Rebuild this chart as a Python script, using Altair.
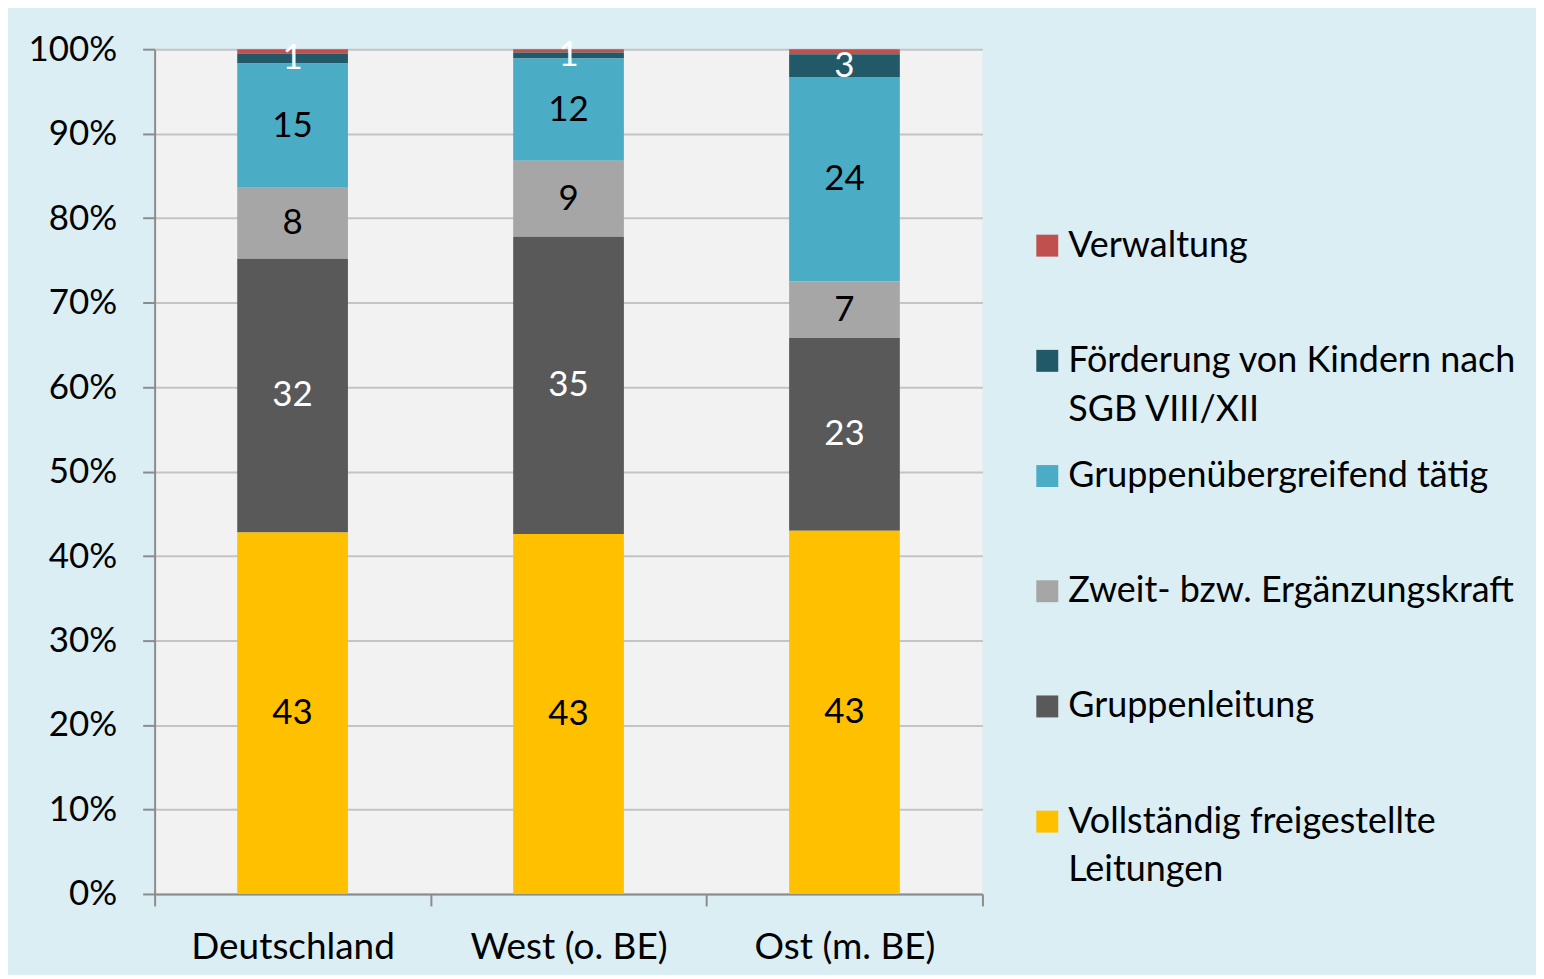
import altair as alt
import pandas as pd

regions = ["Deutschland", "West (o. BE)", "Ost (m. BE)"]
# legend order (top to bottom)
categories = [
    "Verwaltung",
    "Förderung von Kindern nach\nSGB VIII/XII",
    "Gruppenübergreifend tätig",
    "Zweit- bzw. Ergänzungskraft",
    "Gruppenleitung",
    "Vollständig freigestellte\nLeitungen",
]
colors = ["#C0504D", "#215968", "#4BACC6", "#A6A6A6", "#595959", "#FFC000"]
label_colors = ["white", "white", "black", "black", "white", "black"]
stack_rank = [5, 4, 3, 2, 1, 0]

# values per category, for [Deutschland, West, Ost]
verwaltung = [0.5, 0.4, 0.6]
foerderung = [1.2, 0.7, 2.7]
uebergreifend = [14.7, 12.1, 24.2]
zweitkraft = [8.4, 9.0, 6.7]
gruppenleitung = [32.4, 35.2, 22.8]
freigestellt = [42.8, 42.6, 43.0]
series = [verwaltung, foerderung, uebergreifend, zweitkraft, gruppenleitung, freigestellt]
show_label = [False, True, True, True, True, True]

rows = []
for ci, cat in enumerate(categories):
    for ri, reg in enumerate(regions):
        v = series[ci][ri]
        rows.append({
            "region": reg,
            "category": cat,
            "value": v,
            "rank": stack_rank[ci],
            "label": f"{round(v):d}" if show_label[ci] else "",
            "tc": label_colors[ci],
        })
df = pd.DataFrame(rows)

FONT = "Lato"

base = alt.Chart(df).transform_stack(
    stack="value",
    as_=["y0", "y1"],
    groupby=["region"],
    sort=[alt.SortField("rank", order="ascending")],
    offset="normalize",
).transform_calculate(ymid="(datum.y0 + datum.y1) / 2")

xenc = alt.X(
    "region:N",
    sort=regions,
    title=None,
    scale=alt.Scale(paddingInner=0, paddingOuter=0),
    axis=alt.Axis(
        labelAngle=0, tickBand="extent", tickSize=12, tickColor="#8C8C8C",
        domainColor="#8C8C8C", domainWidth=2, tickWidth=2,
        labelFontSize=37, labelFont=FONT, labelColor="black", labelPadding=24,
        labelLimit=400, grid=False,
    ),
)

bars = base.mark_bar(size=111).encode(
    x=xenc,
    y=alt.Y(
        "y0:Q",
        title=None,
        scale=alt.Scale(domain=[0, 1]),
        axis=alt.Axis(
            format=".0%", values=[i / 10 for i in range(11)], tickSize=12,
            tickColor="#8C8C8C", tickWidth=2, domainColor="#8C8C8C", domainWidth=2,
            gridColor="#C4C4C4", gridWidth=2, labelFontSize=35, labelFont=FONT,
            labelColor="black", labelPadding=26,
        ),
    ),
    y2="y1:Q",
    color=alt.Color(
        "category:N",
        scale=alt.Scale(domain=categories, range=colors),
        legend=alt.Legend(
            title=None, orient="none", legendX=877, legendY=179,
            symbolType="square", symbolSize=484, symbolStrokeWidth=0,
            labelFontSize=36, labelFont=FONT, labelColor="black",
            labelExpr="split(datum.label, '\\n')",
            gridAlign="all", rowPadding=30.5,
            labelOffset=3, padding=0, labelLimit=600,
        ),
    ),
)

labels = base.transform_filter("datum.label != ''").mark_text(
    font=FONT, fontSize=35, baseline="middle", align="center"
).encode(
    x=alt.X("region:N", sort=regions),
    y=alt.Y("ymid:Q"),
    text="label:N",
    color=alt.Color("tc:N", scale=None),
)

chart = alt.layer(bars, labels).properties(
    width=830, height=847,
    background="#DBEEF4",
    padding={"left": 147, "top": 40, "right": 555, "bottom": 80},
    autosize=alt.AutoSizeParams(type="none"),
).configure(
    style={"guide-label": {"lineHeight": 49}}
).configure_view(fill="#F2F2F2", stroke=None)

chart.save("out.html", embed_options={"renderer": "svg", "actions": False})
